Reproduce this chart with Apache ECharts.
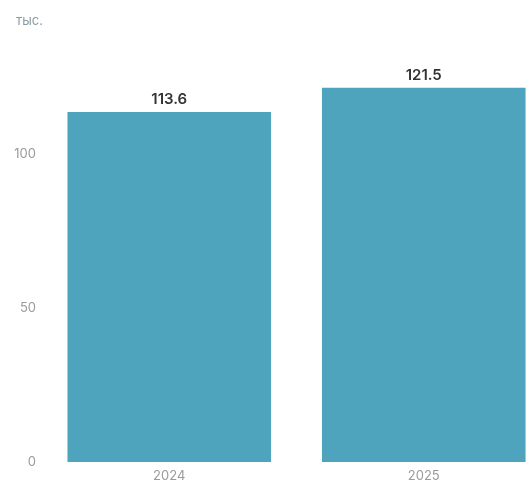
<!DOCTYPE html>
<html>
<head>
<meta charset="utf-8">
<script src="https://cdn.jsdelivr.net/npm/echarts@6/dist/echarts.min.js"></script>
<style>
  html, body { margin: 0; padding: 0; background: #fff; }
  #chart { width: 526px; height: 483px; }
</style>
</head>
<body>
<div id="chart"></div>
<script>
// Yearly totals, thousands
const years = ['2024', '2025'];
const totals = [113.6, 121.5];
const unitLabel = 'тыс.';

const chart = echarts.init(document.getElementById('chart'));
chart.setOption({
  animation: false,
  textStyle: { fontFamily: 'Inter, "Open Sans", sans-serif' },
  title: {
    text: unitLabel,
    left: 11,
    top: 10,
    textStyle: { fontSize: 13, fontWeight: 'normal', color: '#8c9aa3' }
  },
  // the plot runs past the right edge of the canvas on purpose
  grid: { left: 42, top: 0, width: 509, height: 462, containLabel: false, outerBoundsMode: 'none' },
  xAxis: {
    type: 'category',
    data: years,
    axisLine: { show: false },
    axisTick: { show: false },
    axisLabel: { color: '#9a9a9a', fontSize: 13, margin: 8 }
  },
  yAxis: {
    type: 'value',
    min: 0,
    max: 150,
    interval: 50,
    splitLine: { show: false },
    axisLine: { show: false },
    axisTick: { show: false },
    axisLabel: { color: '#9a9a9a', fontSize: 13, margin: 6, showMaxLabel: false }
  },
  series: [{
    type: 'bar',
    data: totals,
    barCategoryGap: '20%',
    itemStyle: { color: '#4fa4bd' },
    label: {
      show: true,
      position: 'top',
      distance: 5,
      color: '#333',
      fontSize: 15,
      fontWeight: 600,
      formatter: (p) => p.value.toFixed(1)
    }
  }]
});
</script>
</body>
</html>
